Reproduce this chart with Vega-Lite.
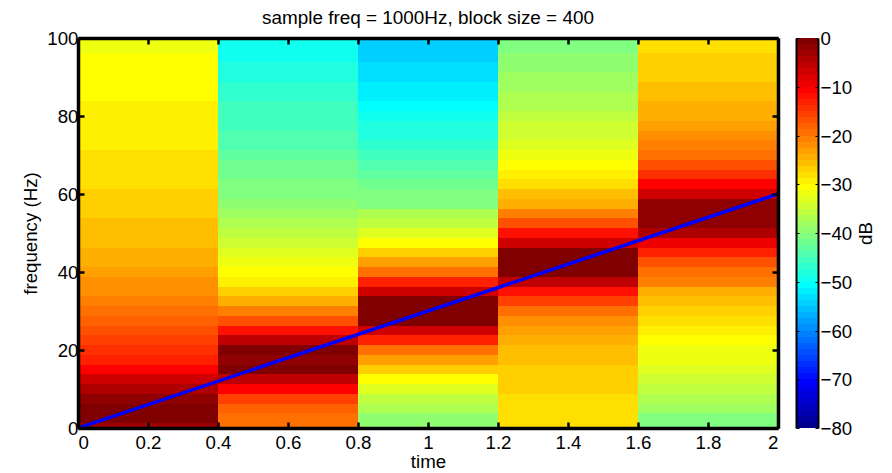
{"$schema":"https://vega.github.io/schema/vega-lite/v6.json","background":"white","padding":{"left":21,"top":9,"right":0,"bottom":0},"spacing":15,"config":{"font":"Liberation Sans","view":{"stroke":null}},"datasets":{"cells":[
{"t0":0,"t1":0.4,"f0":0,"f1":1.25,"db":-3.1},{"t0":0,"t1":0.4,"f0":1.25,"f1":3.75,"db":-0.6},{"t0":0,"t1":0.4,"f0":3.75,"f1":6.25,"db":-0.6},{"t0":0,"t1":0.4,"f0":6.25,"f1":8.75,"db":-1.9},{"t0":0,"t1":0.4,"f0":8.75,"f1":11.25,"db":-4.4},{"t0":0,"t1":0.4,"f0":11.25,"f1":13.75,"db":-6.9},{"t0":0,"t1":0.4,"f0":13.75,"f1":16.25,"db":-10.6},{"t0":0,"t1":0.4,"f0":16.25,"f1":18.75,"db":-13.1},{"t0":0,"t1":0.4,"f0":18.75,"f1":21.25,"db":-14.4},{"t0":0,"t1":0.4,"f0":21.25,"f1":23.75,"db":-15.6},{"t0":0,"t1":0.4,"f0":23.75,"f1":26.25,"db":-16.9},{"t0":0,"t1":0.4,"f0":26.25,"f1":28.75,"db":-18.1},{"t0":0,"t1":0.4,"f0":28.75,"f1":31.25,"db":-19.4},{"t0":0,"t1":0.4,"f0":31.25,"f1":33.75,"db":-20.6},{"t0":0,"t1":0.4,"f0":33.75,"f1":36.25,"db":-21.9},{"t0":0,"t1":0.4,"f0":36.25,"f1":38.75,"db":-21.9},{"t0":0,"t1":0.4,"f0":38.75,"f1":41.25,"db":-23.1},{"t0":0,"t1":0.4,"f0":41.25,"f1":43.75,"db":-24.4},{"t0":0,"t1":0.4,"f0":43.75,"f1":46.25,"db":-24.4},{"t0":0,"t1":0.4,"f0":46.25,"f1":48.75,"db":-25.6},{"t0":0,"t1":0.4,"f0":48.75,"f1":51.25,"db":-25.6},{"t0":0,"t1":0.4,"f0":51.25,"f1":53.75,"db":-25.6},{"t0":0,"t1":0.4,"f0":53.75,"f1":56.25,"db":-26.9},{"t0":0,"t1":0.4,"f0":56.25,"f1":58.75,"db":-26.9},{"t0":0,"t1":0.4,"f0":58.75,"f1":61.25,"db":-26.9},{"t0":0,"t1":0.4,"f0":61.25,"f1":63.75,"db":-28.1},{"t0":0,"t1":0.4,"f0":63.75,"f1":66.25,"db":-28.1},{"t0":0,"t1":0.4,"f0":66.25,"f1":68.75,"db":-28.1},{"t0":0,"t1":0.4,"f0":68.75,"f1":71.25,"db":-28.1},{"t0":0,"t1":0.4,"f0":71.25,"f1":73.75,"db":-29.4},{"t0":0,"t1":0.4,"f0":73.75,"f1":76.25,"db":-29.4},{"t0":0,"t1":0.4,"f0":76.25,"f1":78.75,"db":-29.4},{"t0":0,"t1":0.4,"f0":78.75,"f1":81.25,"db":-29.4},{"t0":0,"t1":0.4,"f0":81.25,"f1":83.75,"db":-29.4},{"t0":0,"t1":0.4,"f0":83.75,"f1":86.25,"db":-30.6},{"t0":0,"t1":0.4,"f0":86.25,"f1":88.75,"db":-30.6},{"t0":0,"t1":0.4,"f0":88.75,"f1":91.25,"db":-30.6},{"t0":0,"t1":0.4,"f0":91.25,"f1":93.75,"db":-30.6},{"t0":0,"t1":0.4,"f0":93.75,"f1":96.25,"db":-30.6},{"t0":0,"t1":0.4,"f0":96.25,"f1":98.75,"db":-31.9},{"t0":0,"t1":0.4,"f0":98.75,"f1":100,"db":-31.9},
{"t0":0.4,"t1":0.8,"f0":0,"f1":1.25,"db":-19.4},{"t0":0.4,"t1":0.8,"f0":1.25,"f1":3.75,"db":-19.4},{"t0":0.4,"t1":0.8,"f0":3.75,"f1":6.25,"db":-18.1},{"t0":0.4,"t1":0.8,"f0":6.25,"f1":8.75,"db":-15.6},{"t0":0.4,"t1":0.8,"f0":8.75,"f1":11.25,"db":-10.6},{"t0":0.4,"t1":0.8,"f0":11.25,"f1":13.75,"db":-5.6},{"t0":0.4,"t1":0.8,"f0":13.75,"f1":16.25,"db":-0.6},{"t0":0.4,"t1":0.8,"f0":16.25,"f1":18.75,"db":-1.9},{"t0":0.4,"t1":0.8,"f0":18.75,"f1":21.25,"db":-0.6},{"t0":0.4,"t1":0.8,"f0":21.25,"f1":23.75,"db":-5.6},{"t0":0.4,"t1":0.8,"f0":23.75,"f1":26.25,"db":-11.9},{"t0":0.4,"t1":0.8,"f0":26.25,"f1":28.75,"db":-16.9},{"t0":0.4,"t1":0.8,"f0":28.75,"f1":31.25,"db":-20.6},{"t0":0.4,"t1":0.8,"f0":31.25,"f1":33.75,"db":-24.4},{"t0":0.4,"t1":0.8,"f0":33.75,"f1":36.25,"db":-26.9},{"t0":0.4,"t1":0.8,"f0":36.25,"f1":38.75,"db":-29.4},{"t0":0.4,"t1":0.8,"f0":38.75,"f1":41.25,"db":-30.6},{"t0":0.4,"t1":0.8,"f0":41.25,"f1":43.75,"db":-31.9},{"t0":0.4,"t1":0.8,"f0":43.75,"f1":46.25,"db":-33.1},{"t0":0.4,"t1":0.8,"f0":46.25,"f1":48.75,"db":-34.4},{"t0":0.4,"t1":0.8,"f0":48.75,"f1":51.25,"db":-35.6},{"t0":0.4,"t1":0.8,"f0":51.25,"f1":53.75,"db":-36.9},{"t0":0.4,"t1":0.8,"f0":53.75,"f1":56.25,"db":-38.1},{"t0":0.4,"t1":0.8,"f0":56.25,"f1":58.75,"db":-39.4},{"t0":0.4,"t1":0.8,"f0":58.75,"f1":61.25,"db":-40.6},{"t0":0.4,"t1":0.8,"f0":61.25,"f1":63.75,"db":-40.6},{"t0":0.4,"t1":0.8,"f0":63.75,"f1":66.25,"db":-41.9},{"t0":0.4,"t1":0.8,"f0":66.25,"f1":68.75,"db":-41.9},{"t0":0.4,"t1":0.8,"f0":68.75,"f1":71.25,"db":-43.1},{"t0":0.4,"t1":0.8,"f0":71.25,"f1":73.75,"db":-44.4},{"t0":0.4,"t1":0.8,"f0":73.75,"f1":76.25,"db":-44.4},{"t0":0.4,"t1":0.8,"f0":76.25,"f1":78.75,"db":-45.6},{"t0":0.4,"t1":0.8,"f0":78.75,"f1":81.25,"db":-45.6},{"t0":0.4,"t1":0.8,"f0":81.25,"f1":83.75,"db":-45.6},{"t0":0.4,"t1":0.8,"f0":83.75,"f1":86.25,"db":-46.9},{"t0":0.4,"t1":0.8,"f0":86.25,"f1":88.75,"db":-46.9},{"t0":0.4,"t1":0.8,"f0":88.75,"f1":91.25,"db":-48.1},{"t0":0.4,"t1":0.8,"f0":91.25,"f1":93.75,"db":-48.1},{"t0":0.4,"t1":0.8,"f0":93.75,"f1":96.25,"db":-49.4},{"t0":0.4,"t1":0.8,"f0":96.25,"f1":98.75,"db":-49.4},{"t0":0.4,"t1":0.8,"f0":98.75,"f1":100,"db":-49.4},
{"t0":0.8,"t1":1.2,"f0":0,"f1":1.25,"db":-39.4},{"t0":0.8,"t1":1.2,"f0":1.25,"f1":3.75,"db":-39.4},{"t0":0.8,"t1":1.2,"f0":3.75,"f1":6.25,"db":-36.9},{"t0":0.8,"t1":1.2,"f0":6.25,"f1":8.75,"db":-35.6},{"t0":0.8,"t1":1.2,"f0":8.75,"f1":11.25,"db":-33.1},{"t0":0.8,"t1":1.2,"f0":11.25,"f1":13.75,"db":-30.6},{"t0":0.8,"t1":1.2,"f0":13.75,"f1":16.25,"db":-26.9},{"t0":0.8,"t1":1.2,"f0":16.25,"f1":18.75,"db":-23.1},{"t0":0.8,"t1":1.2,"f0":18.75,"f1":21.25,"db":-19.4},{"t0":0.8,"t1":1.2,"f0":21.25,"f1":23.75,"db":-13.1},{"t0":0.8,"t1":1.2,"f0":23.75,"f1":26.25,"db":-6.9},{"t0":0.8,"t1":1.2,"f0":26.25,"f1":28.75,"db":-0.6},{"t0":0.8,"t1":1.2,"f0":28.75,"f1":31.25,"db":-0.6},{"t0":0.8,"t1":1.2,"f0":31.25,"f1":33.75,"db":-0.6},{"t0":0.8,"t1":1.2,"f0":33.75,"f1":36.25,"db":-6.9},{"t0":0.8,"t1":1.2,"f0":36.25,"f1":38.75,"db":-13.1},{"t0":0.8,"t1":1.2,"f0":38.75,"f1":41.25,"db":-19.4},{"t0":0.8,"t1":1.2,"f0":41.25,"f1":43.75,"db":-23.1},{"t0":0.8,"t1":1.2,"f0":43.75,"f1":46.25,"db":-26.9},{"t0":0.8,"t1":1.2,"f0":46.25,"f1":48.75,"db":-30.6},{"t0":0.8,"t1":1.2,"f0":48.75,"f1":51.25,"db":-33.1},{"t0":0.8,"t1":1.2,"f0":51.25,"f1":53.75,"db":-35.6},{"t0":0.8,"t1":1.2,"f0":53.75,"f1":56.25,"db":-36.9},{"t0":0.8,"t1":1.2,"f0":56.25,"f1":58.75,"db":-40.6},{"t0":0.8,"t1":1.2,"f0":58.75,"f1":61.25,"db":-40.6},{"t0":0.8,"t1":1.2,"f0":61.25,"f1":63.75,"db":-41.9},{"t0":0.8,"t1":1.2,"f0":63.75,"f1":66.25,"db":-43.1},{"t0":0.8,"t1":1.2,"f0":66.25,"f1":68.75,"db":-44.4},{"t0":0.8,"t1":1.2,"f0":68.75,"f1":71.25,"db":-45.6},{"t0":0.8,"t1":1.2,"f0":71.25,"f1":73.75,"db":-46.9},{"t0":0.8,"t1":1.2,"f0":73.75,"f1":76.25,"db":-48.1},{"t0":0.8,"t1":1.2,"f0":76.25,"f1":78.75,"db":-48.1},{"t0":0.8,"t1":1.2,"f0":78.75,"f1":81.25,"db":-49.4},{"t0":0.8,"t1":1.2,"f0":81.25,"f1":83.75,"db":-50.6},{"t0":0.8,"t1":1.2,"f0":83.75,"f1":86.25,"db":-51.9},{"t0":0.8,"t1":1.2,"f0":86.25,"f1":88.75,"db":-51.9},{"t0":0.8,"t1":1.2,"f0":88.75,"f1":91.25,"db":-53.1},{"t0":0.8,"t1":1.2,"f0":91.25,"f1":93.75,"db":-53.1},{"t0":0.8,"t1":1.2,"f0":93.75,"f1":96.25,"db":-54.4},{"t0":0.8,"t1":1.2,"f0":96.25,"f1":98.75,"db":-54.4},{"t0":0.8,"t1":1.2,"f0":98.75,"f1":100,"db":-54.4},
{"t0":1.2,"t1":1.6,"f0":0,"f1":1.25,"db":-28.1},{"t0":1.2,"t1":1.6,"f0":1.25,"f1":3.75,"db":-28.1},{"t0":1.2,"t1":1.6,"f0":3.75,"f1":6.25,"db":-28.1},{"t0":1.2,"t1":1.6,"f0":6.25,"f1":8.75,"db":-28.1},{"t0":1.2,"t1":1.6,"f0":8.75,"f1":11.25,"db":-26.9},{"t0":1.2,"t1":1.6,"f0":11.25,"f1":13.75,"db":-26.9},{"t0":1.2,"t1":1.6,"f0":13.75,"f1":16.25,"db":-26.9},{"t0":1.2,"t1":1.6,"f0":16.25,"f1":18.75,"db":-25.6},{"t0":1.2,"t1":1.6,"f0":18.75,"f1":21.25,"db":-25.6},{"t0":1.2,"t1":1.6,"f0":21.25,"f1":23.75,"db":-24.4},{"t0":1.2,"t1":1.6,"f0":23.75,"f1":26.25,"db":-23.1},{"t0":1.2,"t1":1.6,"f0":26.25,"f1":28.75,"db":-21.9},{"t0":1.2,"t1":1.6,"f0":28.75,"f1":31.25,"db":-19.4},{"t0":1.2,"t1":1.6,"f0":31.25,"f1":33.75,"db":-15.6},{"t0":1.2,"t1":1.6,"f0":33.75,"f1":36.25,"db":-11.9},{"t0":1.2,"t1":1.6,"f0":36.25,"f1":38.75,"db":-5.6},{"t0":1.2,"t1":1.6,"f0":38.75,"f1":41.25,"db":-0.6},{"t0":1.2,"t1":1.6,"f0":41.25,"f1":43.75,"db":-0.6},{"t0":1.2,"t1":1.6,"f0":43.75,"f1":46.25,"db":-0.6},{"t0":1.2,"t1":1.6,"f0":46.25,"f1":48.75,"db":-6.9},{"t0":1.2,"t1":1.6,"f0":48.75,"f1":51.25,"db":-11.9},{"t0":1.2,"t1":1.6,"f0":51.25,"f1":53.75,"db":-16.9},{"t0":1.2,"t1":1.6,"f0":53.75,"f1":56.25,"db":-20.6},{"t0":1.2,"t1":1.6,"f0":56.25,"f1":58.75,"db":-24.4},{"t0":1.2,"t1":1.6,"f0":58.75,"f1":61.25,"db":-25.6},{"t0":1.2,"t1":1.6,"f0":61.25,"f1":63.75,"db":-28.1},{"t0":1.2,"t1":1.6,"f0":63.75,"f1":66.25,"db":-29.4},{"t0":1.2,"t1":1.6,"f0":66.25,"f1":68.75,"db":-30.6},{"t0":1.2,"t1":1.6,"f0":68.75,"f1":71.25,"db":-31.9},{"t0":1.2,"t1":1.6,"f0":71.25,"f1":73.75,"db":-33.1},{"t0":1.2,"t1":1.6,"f0":73.75,"f1":76.25,"db":-34.4},{"t0":1.2,"t1":1.6,"f0":76.25,"f1":78.75,"db":-34.4},{"t0":1.2,"t1":1.6,"f0":78.75,"f1":81.25,"db":-35.6},{"t0":1.2,"t1":1.6,"f0":81.25,"f1":83.75,"db":-36.9},{"t0":1.2,"t1":1.6,"f0":83.75,"f1":86.25,"db":-36.9},{"t0":1.2,"t1":1.6,"f0":86.25,"f1":88.75,"db":-38.1},{"t0":1.2,"t1":1.6,"f0":88.75,"f1":91.25,"db":-38.1},{"t0":1.2,"t1":1.6,"f0":91.25,"f1":93.75,"db":-39.4},{"t0":1.2,"t1":1.6,"f0":93.75,"f1":96.25,"db":-39.4},{"t0":1.2,"t1":1.6,"f0":96.25,"f1":98.75,"db":-40.6},{"t0":1.2,"t1":1.6,"f0":98.75,"f1":100,"db":-40.6},
{"t0":1.6,"t1":2,"f0":0,"f1":1.25,"db":-40.6},{"t0":1.6,"t1":2,"f0":1.25,"f1":3.75,"db":-40.6},{"t0":1.6,"t1":2,"f0":3.75,"f1":6.25,"db":-38.1},{"t0":1.6,"t1":2,"f0":6.25,"f1":8.75,"db":-36.9},{"t0":1.6,"t1":2,"f0":8.75,"f1":11.25,"db":-35.6},{"t0":1.6,"t1":2,"f0":11.25,"f1":13.75,"db":-34.4},{"t0":1.6,"t1":2,"f0":13.75,"f1":16.25,"db":-33.1},{"t0":1.6,"t1":2,"f0":16.25,"f1":18.75,"db":-31.9},{"t0":1.6,"t1":2,"f0":18.75,"f1":21.25,"db":-31.9},{"t0":1.6,"t1":2,"f0":21.25,"f1":23.75,"db":-30.6},{"t0":1.6,"t1":2,"f0":23.75,"f1":26.25,"db":-29.4},{"t0":1.6,"t1":2,"f0":26.25,"f1":28.75,"db":-28.1},{"t0":1.6,"t1":2,"f0":28.75,"f1":31.25,"db":-26.9},{"t0":1.6,"t1":2,"f0":31.25,"f1":33.75,"db":-25.6},{"t0":1.6,"t1":2,"f0":33.75,"f1":36.25,"db":-24.4},{"t0":1.6,"t1":2,"f0":36.25,"f1":38.75,"db":-20.6},{"t0":1.6,"t1":2,"f0":38.75,"f1":41.25,"db":-19.4},{"t0":1.6,"t1":2,"f0":41.25,"f1":43.75,"db":-16.9},{"t0":1.6,"t1":2,"f0":43.75,"f1":46.25,"db":-13.1},{"t0":1.6,"t1":2,"f0":46.25,"f1":48.75,"db":-9.4},{"t0":1.6,"t1":2,"f0":48.75,"f1":51.25,"db":-4.4},{"t0":1.6,"t1":2,"f0":51.25,"f1":53.75,"db":-1.9},{"t0":1.6,"t1":2,"f0":53.75,"f1":56.25,"db":-1.9},{"t0":1.6,"t1":2,"f0":56.25,"f1":58.75,"db":-1.9},{"t0":1.6,"t1":2,"f0":58.75,"f1":61.25,"db":-6.9},{"t0":1.6,"t1":2,"f0":61.25,"f1":63.75,"db":-10.6},{"t0":1.6,"t1":2,"f0":63.75,"f1":66.25,"db":-14.4},{"t0":1.6,"t1":2,"f0":66.25,"f1":68.75,"db":-16.9},{"t0":1.6,"t1":2,"f0":68.75,"f1":71.25,"db":-19.4},{"t0":1.6,"t1":2,"f0":71.25,"f1":73.75,"db":-20.6},{"t0":1.6,"t1":2,"f0":73.75,"f1":76.25,"db":-21.9},{"t0":1.6,"t1":2,"f0":76.25,"f1":78.75,"db":-23.1},{"t0":1.6,"t1":2,"f0":78.75,"f1":81.25,"db":-24.4},{"t0":1.6,"t1":2,"f0":81.25,"f1":83.75,"db":-24.4},{"t0":1.6,"t1":2,"f0":83.75,"f1":86.25,"db":-25.6},{"t0":1.6,"t1":2,"f0":86.25,"f1":88.75,"db":-25.6},{"t0":1.6,"t1":2,"f0":88.75,"f1":91.25,"db":-26.9},{"t0":1.6,"t1":2,"f0":91.25,"f1":93.75,"db":-26.9},{"t0":1.6,"t1":2,"f0":93.75,"f1":96.25,"db":-26.9},{"t0":1.6,"t1":2,"f0":96.25,"f1":98.75,"db":-28.1},{"t0":1.6,"t1":2,"f0":98.75,"f1":100,"db":-28.1}
],"bar":[{"lo":-80,"hi":-78.75},{"lo":-78.75,"hi":-77.5},{"lo":-77.5,"hi":-76.25},{"lo":-76.25,"hi":-75},{"lo":-75,"hi":-73.75},{"lo":-73.75,"hi":-72.5},{"lo":-72.5,"hi":-71.25},{"lo":-71.25,"hi":-70},{"lo":-70,"hi":-68.75},{"lo":-68.75,"hi":-67.5},{"lo":-67.5,"hi":-66.25},{"lo":-66.25,"hi":-65},{"lo":-65,"hi":-63.75},{"lo":-63.75,"hi":-62.5},{"lo":-62.5,"hi":-61.25},{"lo":-61.25,"hi":-60},{"lo":-60,"hi":-58.75},{"lo":-58.75,"hi":-57.5},{"lo":-57.5,"hi":-56.25},{"lo":-56.25,"hi":-55},{"lo":-55,"hi":-53.75},{"lo":-53.75,"hi":-52.5},{"lo":-52.5,"hi":-51.25},{"lo":-51.25,"hi":-50},{"lo":-50,"hi":-48.75},{"lo":-48.75,"hi":-47.5},{"lo":-47.5,"hi":-46.25},{"lo":-46.25,"hi":-45},{"lo":-45,"hi":-43.75},{"lo":-43.75,"hi":-42.5},{"lo":-42.5,"hi":-41.25},{"lo":-41.25,"hi":-40},{"lo":-40,"hi":-38.75},{"lo":-38.75,"hi":-37.5},{"lo":-37.5,"hi":-36.25},{"lo":-36.25,"hi":-35},{"lo":-35,"hi":-33.75},{"lo":-33.75,"hi":-32.5},{"lo":-32.5,"hi":-31.25},{"lo":-31.25,"hi":-30},{"lo":-30,"hi":-28.75},{"lo":-28.75,"hi":-27.5},{"lo":-27.5,"hi":-26.25},{"lo":-26.25,"hi":-25},{"lo":-25,"hi":-23.75},{"lo":-23.75,"hi":-22.5},{"lo":-22.5,"hi":-21.25},{"lo":-21.25,"hi":-20},{"lo":-20,"hi":-18.75},{"lo":-18.75,"hi":-17.5},{"lo":-17.5,"hi":-16.25},{"lo":-16.25,"hi":-15},{"lo":-15,"hi":-13.75},{"lo":-13.75,"hi":-12.5},{"lo":-12.5,"hi":-11.25},{"lo":-11.25,"hi":-10},{"lo":-10,"hi":-8.75},{"lo":-8.75,"hi":-7.5},{"lo":-7.5,"hi":-6.25},{"lo":-6.25,"hi":-5},{"lo":-5,"hi":-3.75},{"lo":-3.75,"hi":-2.5},{"lo":-2.5,"hi":-1.25},{"lo":-1.25,"hi":0}],"line":[{"time":0,"freq":0},{"time":2,"freq":60}]},
"hconcat":[
{"width":700,"height":390,"title":{"text":"sample freq = 1000Hz, block size = 400","font":"Liberation Sans","fontSize":18.9,"fontWeight":"normal","color":"black","offset":1,"anchor":"middle"},
"layer":[
{"data":{"name":"cells"},"mark":{"type":"rect","stroke":null},"encoding":{
"x":{"field":"t0","type":"quantitative","scale":{"domain":[0,2],"nice":false,"round":true},"axis":{"orient":"bottom","zindex":1,"grid":false,"domain":true,"domainColor":"black","domainWidth":3.5,"ticks":true,"tickColor":"black","tickWidth":2.5,"tickSize":-6,"labelColor":"black","labelFontSize":18.7,"labelPadding":11,"values":[0,0.2,0.4,0.6,0.8,1,1.2,1.4,1.6,1.8,2],"format":"~g","title":"time","titleColor":"black","titleFontSize":18.7,"titleFontWeight":"normal","titlePadding":1}},
"x2":{"field":"t1"},
"y":{"field":"f0","type":"quantitative","scale":{"domain":[0,100],"nice":false,"round":true},"axis":{"orient":"left","zindex":1,"grid":false,"domain":true,"domainColor":"black","domainWidth":3.5,"ticks":true,"tickColor":"black","tickWidth":2.5,"tickSize":-6,"labelColor":"black","labelFontSize":18.7,"labelPadding":6,"values":[0,20,40,60,80,100],"title":"frequency (Hz)","titleColor":"black","titleFontSize":18.7,"titleFontWeight":"normal","titlePadding":6}},
"y2":{"field":"f1"},
"color":{"field":"db","type":"quantitative","legend":null,"scale":{"type":"quantize","domain":[-80,0],"range":["#00008f","#00009f","#0000af","#0000bf","#0000cf","#0000df","#0000ef","#0000ff","#0010ff","#0020ff","#0030ff","#0040ff","#0050ff","#0060ff","#0070ff","#0080ff","#008fff","#009fff","#00afff","#00bfff","#00cfff","#00dfff","#00efff","#00ffff","#10ffef","#20ffdf","#30ffcf","#40ffbf","#50ffaf","#60ff9f","#70ff8f","#80ff80","#8fff70","#9fff60","#afff50","#bfff40","#cfff30","#dfff20","#efff10","#ffff00","#ffef00","#ffdf00","#ffcf00","#ffbf00","#ffaf00","#ff9f00","#ff8f00","#ff8000","#ff7000","#ff6000","#ff5000","#ff4000","#ff3000","#ff2000","#ff1000","#ff0000","#ef0000","#df0000","#cf0000","#bf0000","#af0000","#9f0000","#8f0000","#800000"]}}}},
{"data":{"name":"line"},"mark":{"type":"line","color":"#0000ff","strokeWidth":3.5,"clip":true},"encoding":{
"x":{"field":"time","type":"quantitative","axis":{"orient":"top","zindex":1,"grid":false,"domain":true,"domainColor":"black","domainWidth":3.5,"ticks":true,"tickColor":"black","tickWidth":2.5,"tickSize":-6,"values":[0,0.2,0.4,0.6,0.8,1,1.2,1.4,1.6,1.8,2],"labels":false,"title":null}},
"y":{"field":"freq","type":"quantitative","axis":{"orient":"right","zindex":1,"grid":false,"domain":true,"domainColor":"black","domainWidth":3.5,"ticks":true,"tickColor":"black","tickWidth":2.5,"tickSize":-6,"values":[0,20,40,60,80,100],"labels":false,"title":null}}}}
],"resolve":{"axis":{"x":"independent","y":"independent"}}},
{"width":22,"height":390,
"layer":[
{"data":{"name":"bar"},"mark":{"type":"rect","stroke":null},"encoding":{
"x":{"datum":0,"type":"quantitative","scale":{"domain":[0,1]},"axis":null},
"x2":{"datum":1},
"y":{"field":"lo","type":"quantitative","scale":{"domain":[-80,0],"nice":false,"round":true},"axis":{"orient":"right","zindex":1,"grid":false,"domain":true,"domainColor":"black","domainWidth":2,"ticks":true,"tickColor":"black","tickWidth":1,"tickSize":-3,"labelColor":"black","labelFontSize":18.7,"labelPadding":5,"values":[-80,-70,-60,-50,-40,-30,-20,-10,0],"format":"d","title":"dB","titleColor":"black","titleFontSize":18.7,"titleFontWeight":"normal","titleAngle":270,"titleBaseline":"top","titlePadding":5}},
"y2":{"field":"hi"},
"color":{"field":"lo","type":"quantitative","legend":null,"scale":{"type":"quantize","domain":[-80,0],"range":["#00008f","#00009f","#0000af","#0000bf","#0000cf","#0000df","#0000ef","#0000ff","#0010ff","#0020ff","#0030ff","#0040ff","#0050ff","#0060ff","#0070ff","#0080ff","#008fff","#009fff","#00afff","#00bfff","#00cfff","#00dfff","#00efff","#00ffff","#10ffef","#20ffdf","#30ffcf","#40ffbf","#50ffaf","#60ff9f","#70ff8f","#80ff80","#8fff70","#9fff60","#afff50","#bfff40","#cfff30","#dfff20","#efff10","#ffff00","#ffef00","#ffdf00","#ffcf00","#ffbf00","#ffaf00","#ff9f00","#ff8f00","#ff8000","#ff7000","#ff6000","#ff5000","#ff4000","#ff3000","#ff2000","#ff1000","#ff0000","#ef0000","#df0000","#cf0000","#bf0000","#af0000","#9f0000","#8f0000","#800000"]}}}},
{"data":{"name":"bar"},"mark":{"type":"rect","stroke":null,"opacity":0},"encoding":{
"x":{"datum":0,"type":"quantitative","axis":null},
"x2":{"datum":1},
"y":{"field":"lo","type":"quantitative","axis":{"orient":"left","zindex":1,"grid":false,"domain":true,"domainColor":"black","domainWidth":2,"ticks":true,"tickColor":"black","tickWidth":1,"tickSize":-3,"labels":false,"values":[-80,-70,-60,-50,-40,-30,-20,-10,0],"title":null}},
"y2":{"field":"hi"}}}
],"resolve":{"axis":{"y":"independent"}}}
],"resolve":{"scale":{"color":"independent"}}}
